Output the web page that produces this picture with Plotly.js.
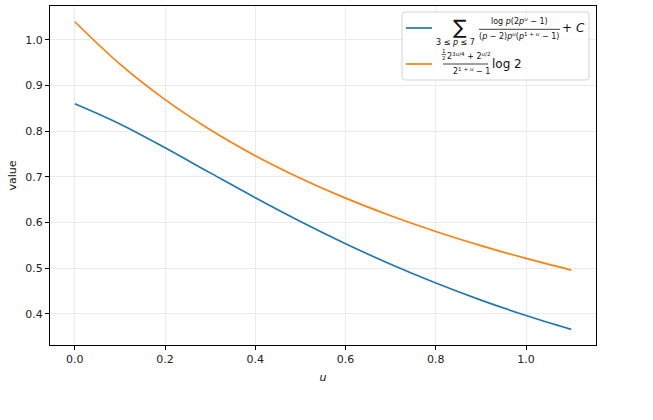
<!DOCTYPE html>
<html>
<head>
<meta charset="utf-8">
<script src="https://cdn.plot.ly/plotly-3.0.1.min.js"></script>
<style>
  html, body { margin: 0; padding: 0; background: #fff; }
  #chart { width: 653px; height: 420px; }
</style>
</head>
<body>
<div id="chart"></div>
<script>
// Sample points along u
const uValues = [0.0, 0.1, 0.2, 0.3, 0.4, 0.5, 0.6, 0.7, 0.8, 0.9, 1.0, 1.1];

// Prime sum over 3 <= p <= 7 plus constant C
const primeSumValues = [0.8600, 0.8157, 0.7634, 0.7085, 0.6541, 0.6020,
                        0.5533, 0.5082, 0.4671, 0.4297, 0.3959, 0.3655];

// Closed-form expression times log 2
const closedFormValues = [1.0397, 0.9468, 0.8690, 0.8030, 0.7461, 0.6966,
                          0.6531, 0.6146, 0.5801, 0.5491, 0.5210, 0.4955];

const xTickVals = [0.0, 0.2, 0.4, 0.6, 0.8, 1.0];
const yTickVals = [0.4, 0.5, 0.6, 0.7, 0.8, 0.9, 1.0];

const W = 653, H = 420;
const M = { l: 50, r: 57, t: 6, b: 75 };
const PW = W - M.l - M.r, PH = H - M.t - M.b;
const px = x => (x - M.l) / PW;
const py = y => 1 - (y - M.t) / PH;

const BLUE = '#1f77b4', ORANGE = '#ff7f0e';
const FONT = 'DejaVu Sans, sans-serif';

const traces = [
  { x: uValues, y: primeSumValues, type: 'scatter', mode: 'lines',
    line: { color: BLUE, width: 1.7, shape: 'spline', smoothing: 1 }, hoverinfo: 'skip' },
  { x: uValues, y: closedFormValues, type: 'scatter', mode: 'lines',
    line: { color: ORANGE, width: 1.7, shape: 'spline', smoothing: 1 }, hoverinfo: 'skip' }
];

function label(x, y, text, size, anchor) {
  return { xref: 'paper', yref: 'paper', x: px(x), y: py(y), text: text,
           showarrow: false, xanchor: anchor || 'center', yanchor: 'middle',
           font: { family: FONT, size: size, color: '#111' } };
}
function hline(x0, x1, y, color, width) {
  return { type: 'line', xref: 'paper', yref: 'paper', layer: 'above',
           x0: px(x0), x1: px(x1), y0: py(y), y1: py(y),
           line: { color: color, width: width } };
}
// Rounded legend frame, given in pixel corners and converted to paper units
function roundedBox(x0, y0, x1, y1, r) {
  const a = px(x0), b = px(x1), top = py(y0), bot = py(y1);
  const rx = r / PW, ry = r / PH;
  const path = `M ${a + rx},${top} L ${b - rx},${top} Q ${b},${top} ${b},${top - ry} ` +
               `L ${b},${bot + ry} Q ${b},${bot} ${b - rx},${bot} ` +
               `L ${a + rx},${bot} Q ${a},${bot} ${a},${bot + ry} ` +
               `L ${a},${top - ry} Q ${a},${top} ${a + rx},${top} Z`;
  return { type: 'path', xref: 'paper', yref: 'paper', layer: 'above', path: path,
           fillcolor: 'rgba(255,255,255,0.85)', line: { color: '#d4d4d4', width: 1 } };
}

const shapes = [
  roundedBox(402, 12, 589, 80, 3),
  hline(406, 432, 28, BLUE, 1.7),
  hline(406, 432, 64, ORANGE, 1.7),
  // fraction bars
  hline(479, 560, 29.3, '#111', 0.8),
  hline(443, 488, 64, '#111', 0.8),
  hline(441.5, 446, 54.5, '#111', 0.6)
];

const annotations = [
  label(459.5, 26.5, '∑', 20),
  label(455, 42.5, '3 ≤ <i>p</i> ≤ 7', 8),
  label(519, 21, 'log <i>p</i>(2<i>p</i><sup><i>u</i></sup> − 1)', 8),
  label(519, 36, '(<i>p</i> − 2)<i>p</i><sup><i>u</i></sup>(<i>p</i><sup>1 + <i>u</i></sup> − 1)', 8),
  label(573, 28, '+ <i>C</i>', 12),
  label(443.8, 51.5, '1', 5.5),
  label(443.8, 58, '2', 5.5),
  label(469, 56, '2<sup>3<i>u</i>/4</sup> + 2<sup><i>u</i>/2</sup>', 8),
  label(471, 71, '2<sup>1 + <i>u</i></sup> − 1', 8),
  label(490, 64, 'log 2', 12, 'left')
];

const axisCommon = {
  showline: true, mirror: true, linecolor: '#000', linewidth: 1,
  ticks: 'outside', ticklen: 4, tickwidth: 1, tickcolor: '#000',
  showgrid: true, gridcolor: '#ebebeb', gridwidth: 1, zeroline: false,
  tickfont: { family: FONT, size: 11, color: '#222' }, tickformat: '.1f'
};

const layout = {
  width: W, height: H, margin: M,
  paper_bgcolor: '#fff', plot_bgcolor: '#fff',
  showlegend: false,
  font: { family: FONT, color: '#111' },
  xaxis: Object.assign({}, axisCommon, {
    range: [-0.055, 1.155], tickvals: xTickVals,
    title: { text: '<i>u</i>', font: { family: FONT, size: 11, color: '#111' }, standoff: 8 }
  }),
  yaxis: Object.assign({}, axisCommon, {
    range: [0.3313, 1.0742], tickvals: yTickVals,
    title: { text: 'value', font: { family: FONT, size: 11, color: '#111' }, standoff: 6 }
  }),
  shapes: shapes,
  annotations: annotations
};

Plotly.newPlot('chart', traces, layout, { staticPlot: true, displayModeBar: false });
</script>
</body>
</html>
